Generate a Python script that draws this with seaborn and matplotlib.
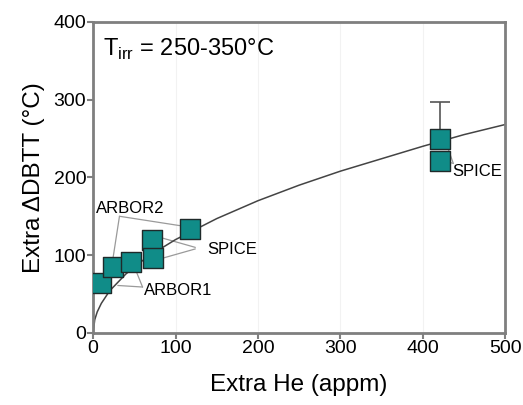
import pandas as pd
import seaborn as sns
import matplotlib.pyplot as plt

# data points
he = [10, 24, 46, 72, 73, 117, 421, 421]
dbtt = [64, 85, 91, 120, 96, 134, 250, 221]

# fitted trend curve
fit_he = [0, 2, 5, 10, 20, 40, 60, 80, 100, 150, 200, 250, 300, 350, 400, 450, 500]
fit_dbtt = [0, 17, 27, 38, 54, 76, 93, 107, 120, 147, 170, 190, 208, 224, 240, 255, 268]

# upper error bar on the high-He SPICE point
err_he = [421]
err_mid = [250]
err_up = [47]

sns.set_style('white')
plt.rcParams['font.family'] = ['Liberation Sans', 'DejaVu Sans']
plt.rcParams['text.color'] = 'black'
plt.rcParams['axes.labelcolor'] = 'black'
plt.rcParams['xtick.labelcolor'] = 'black'
plt.rcParams['ytick.labelcolor'] = 'black'

df = pd.DataFrame({'he': he, 'dbtt': dbtt})
df_fit = pd.DataFrame({'he': fit_he, 'dbtt': fit_dbtt})

fig = plt.figure(figsize=(5.23, 4.05), dpi=100)
ax = fig.add_axes([0.178, 0.178, 0.788, 0.768])

ax.grid(axis='x', color='#f2f2f2', lw=0.8)
sns.lineplot(data=df_fit, x='he', y='dbtt', ax=ax, color='#444444', lw=1.1, zorder=2)
ax.errorbar(err_he, err_mid, yerr=[[0], err_up], fmt='none', ecolor='#555555',
            elinewidth=1.2, capsize=7.5, capthick=1.2, zorder=2)
sns.scatterplot(data=df, x='he', y='dbtt', ax=ax, marker='s', s=190,
                color='#108c88', edgecolor='#1f2a2a', linewidth=1.0, zorder=3)

# group labels with grey leader lines
lc = '#9a9a9a'
lw = 0.9
fs = 12
ax.text(3, 160, 'ARBOR2', fontsize=fs, va='center', ha='left')
ax.plot([32, 24], [150, 95], color=lc, lw=lw, zorder=1)
ax.plot([32, 105], [150, 138], color=lc, lw=lw, zorder=1)

ax.text(138, 107, 'SPICE', fontsize=fs, va='center', ha='left')
ax.plot([124, 84], [110, 122], color=lc, lw=lw, zorder=1)
ax.plot([124, 84], [108, 96], color=lc, lw=lw, zorder=1)

ax.text(62, 55, 'ARBOR1', fontsize=fs, va='center', ha='left')
ax.plot([60, 30], [59, 61], color=lc, lw=lw, zorder=1)
ax.plot([60, 52], [59, 80], color=lc, lw=lw, zorder=1)

ax.text(436, 208, 'SPICE', fontsize=fs, va='center', ha='left')
ax.plot([428, 437], [245, 218], color=lc, lw=lw, zorder=1)
ax.plot([430, 437], [220, 218], color=lc, lw=lw, zorder=1)

ax.text(12, 365, r'T$_{\mathregular{irr}}$ = 250-350°C', fontsize=17, va='center')

ax.set_xlim(0, 500)
ax.set_ylim(0, 400)
ax.set_xticks([0, 100, 200, 300, 400, 500])
ax.set_yticks([0, 100, 200, 300, 400])
ax.set_xlabel('Extra He (appm)', fontsize=17.5, labelpad=12)
ax.set_ylabel('Extra ΔDBTT (°C)', fontsize=17.5, labelpad=6)
ax.tick_params(labelsize=14, direction='out', length=4, width=1.5,
               color='#808080', left=True, bottom=True, pad=1)
for sp in ax.spines.values():
    sp.set_color('#7f7f7f')
    sp.set_linewidth(2)

plt.savefig('out.png', dpi=100)
plt.close()
